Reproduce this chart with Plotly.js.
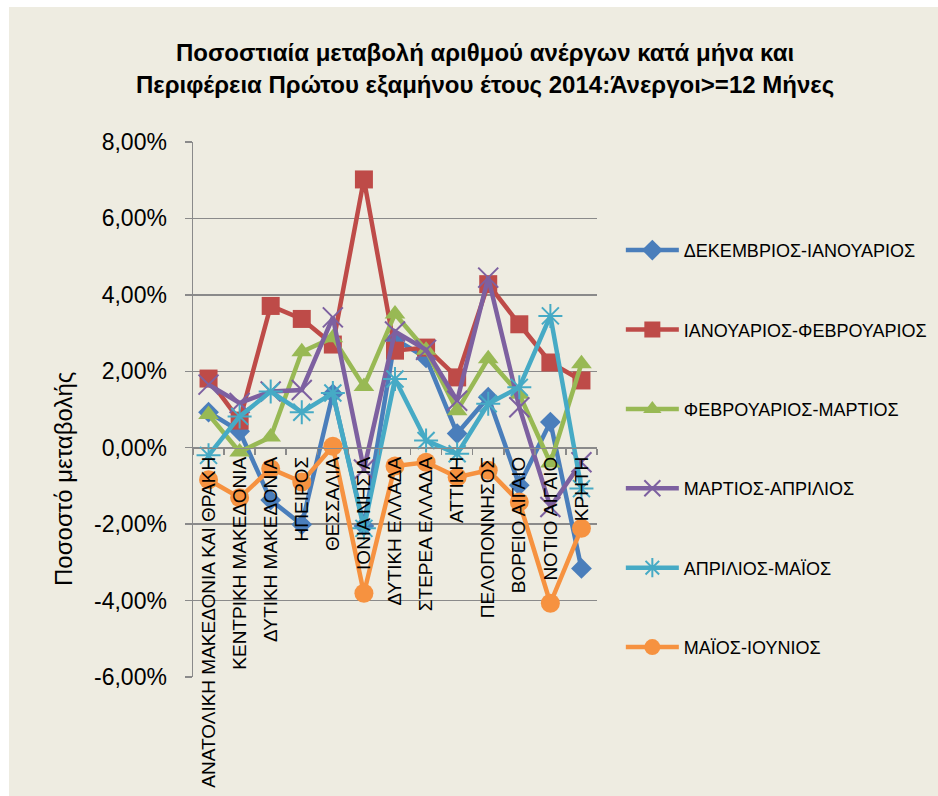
<!DOCTYPE html>
<html>
<head>
<meta charset="utf-8">
<script src="https://cdn.plot.ly/plotly-3.0.1.min.js"></script>
<style>
html,body{margin:0;padding:0;background:#ffffff;width:938px;height:796px;overflow:hidden;}
#chart{position:absolute;left:9px;top:7px;width:929px;height:789px;}
</style>
</head>
<body>
<div id="chart"></div>
<script>
const categories = ["ΑΝΑΤΟΛΙΚΗ ΜΑΚΕΔΟΝΙΑ ΚΑΙ ΘΡΑΚΗ","ΚΕΝΤΡΙΚΗ ΜΑΚΕΔΟΝΙΑ","ΔΥΤΙΚΗ ΜΑΚΕΔΟΝΙΑ","ΗΠΕΙΡΟΣ","ΘΕΣΣΑΛΙΑ","ΙΟΝΙΑ ΝΗΣΙΑ","ΔΥΤΙΚΗ ΕΛΛΑΔΑ","ΣΤΕΡΕΑ ΕΛΛΑΔΑ","ΑΤΤΙΚΗ","ΠΕΛΟΠΟΝΝΗΣΟΣ","ΒΟΡΕΙΟ ΑΙΓΑΙΟ","ΝΟΤΙΟ ΑΙΓΑΙΟ","ΚΡΗΤΗ"];

const seriesNames = ["ΔΕΚΕΜΒΡΙΟΣ-ΙΑΝΟΥΑΡΙΟΣ","ΙΑΝΟΥΑΡΙΟΣ-ΦΕΒΡΟΥΑΡΙΟΣ","ΦΕΒΡΟΥΑΡΙΟΣ-ΜΑΡΤΙΟΣ","ΜΑΡΤΙΟΣ-ΑΠΡΙΛΙΟΣ","ΑΠΡΙΛΙΟΣ-ΜΑΪΟΣ","ΜΑΪΟΣ-ΙΟΥΝΙΟΣ"];

const decJan = [0.93, 0.43, -1.37, -2.01, 1.41, -2.05, 2.84, 2.35, 0.37, 1.32, -0.98, 0.67, -3.16];
const janFeb = [1.81, 0.71, 3.71, 3.37, 2.70, 7.02, 2.54, 2.62, 1.84, 4.28, 3.23, 2.23, 1.76];
const febMar = [0.87, -0.11, 0.28, 2.51, 2.88, 1.60, 3.50, 2.55, 0.97, 2.33, 1.40, -0.40, 2.20];
const marApr = [1.65, 1.17, 1.47, 1.51, 3.41, -0.57, 3.04, 2.56, 1.23, 4.45, 1.06, -1.55, -0.38];
const aprMay = [-0.20, 0.82, 1.47, 0.93, 1.43, -2.11, 1.80, 0.19, -0.16, 1.15, 1.58, 3.45, -1.07];
const mayJun = [-0.84, -1.31, -0.55, -0.90, 0.04, -3.81, -0.48, -0.38, -0.77, -0.59, -1.42, -4.07, -2.11];

const yTickVals = [-6, -4, -2, 0, 2, 4, 6, 8];
const yTickText = ["-6,00%", "-4,00%", "-2,00%", "0,00%", "2,00%", "4,00%", "6,00%", "8,00%"];

const titleText = "Ποσοστιαία μεταβολή αριθμού ανέργων κατά μήνα και<br>Περιφέρεια Πρώτου εξαμήνου έτους 2014:Άνεργοι>=12 Μήνες";
const yTitleText = "Ποσοστό μεταβολής";

const allSeries = [decJan, janFeb, febMar, marApr, aprMay, mayJun];
const colors = ["#4A7EBB", "#BE4B48", "#98B954", "#7D60A0", "#46AAC5", "#F69240"];
const symbols = ["diamond", "square", "triangle-up", "x-thin-open", "asterisk-open", "circle"];
const sizes = [16, 18, 18, 20, 20, 19];

const traces = allSeries.map((vals, i) => {
  const open = symbols[i].indexOf("open") >= 0;
  return {
    type: "scatter",
    mode: "lines+markers",
    x: categories,
    y: vals,
    name: seriesNames[i],
    legendgroup: "g" + i,
    line: {color: colors[i], width: 4.5},
    marker: {
      symbol: symbols[i],
      size: sizes[i],
      color: colors[i],
      line: {color: colors[i], width: open ? 2 : 0}
    },
    cliponaxis: false
  };
});

const F = "'Liberation Sans', Arial, sans-serif";

const layout = {
  width: 929,
  height: 789,
  paper_bgcolor: "#EEECE1",
  plot_bgcolor: "#EEECE1",
  margin: {l: 184, r: 341, t: 135, b: 119, autoexpand: false},
  font: {family: F, color: "#000000"},
  showlegend: true,
  title: {
    text: titleText,
    font: {family: F, size: 24, color: "#000000", weight: "bold"},
    xref: "container", x: 0.5124, xanchor: "center",
    yref: "container", y: 0.931, yanchor: "top"
  },
  xaxis: {
    type: "category",
    anchor: "free",
    position: 6 / 14,
    range: [-0.5, 12.5],
    showgrid: false,
    zeroline: false,
    showline: true,
    linecolor: "#8A8A8A",
    linewidth: 1.5,
    ticks: "outside",
    tickson: "boundaries",
    ticklen: 6,
    tickcolor: "#8A8A8A",
    tickwidth: 1.5,
    tickangle: -90,
    tickfont: {family: F, size: 19, color: "#000000"},
    automargin: false,
    fixedrange: true
  },
  yaxis: {
    range: [-6, 8],
    tickvals: yTickVals,
    ticktext: yTickText,
    showgrid: true,
    gridcolor: "#8A8A8A",
    gridwidth: 1.5,
    zeroline: false,
    showline: true,
    linecolor: "#8A8A8A",
    linewidth: 1.5,
    ticks: "outside",
    ticklen: 7,
    tickcolor: "#8A8A8A",
    tickwidth: 1.5,
    ticklabelstandoff: 13,
    tickfont: {family: F, size: 23, color: "#000000"},
    automargin: false,
    fixedrange: true
  },
  legend: {
    x: 1.059, xanchor: "left",
    y: 0.832, yanchor: "top",
    font: {family: F, size: 18, color: "#000000"},
    bgcolor: "rgba(0,0,0,0)",
    tracegroupgap: 53,
    itemwidth: 53,
    traceorder: "grouped"
  },
  annotations: [{
    text: yTitleText,
    xref: "paper", yref: "paper",
    x: -0.322, y: 0.37,
    xanchor: "center", yanchor: "middle",
    textangle: -90,
    showarrow: false,
    font: {family: F, size: 24, color: "#000000"}
  }]
};

Plotly.newPlot("chart", traces, layout, {staticPlot: true, displayModeBar: false});
</script>
</body>
</html>
